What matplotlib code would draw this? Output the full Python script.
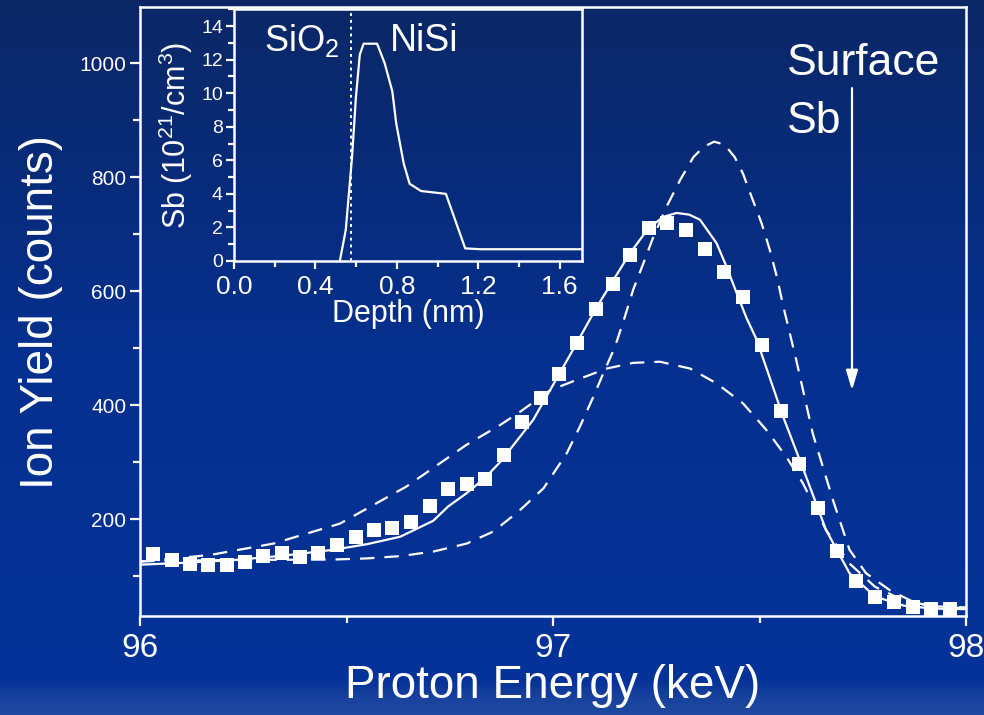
import numpy as np
import matplotlib
matplotlib.use("Agg")
import matplotlib.pyplot as plt
from matplotlib import font_manager
from matplotlib.colors import LinearSegmentedColormap
from matplotlib.ticker import MultipleLocator

# measured spectrum (squares)
e_data = [96.032, 96.077, 96.121, 96.165, 96.210, 96.254, 96.298, 96.343, 96.387, 96.432,
          96.477, 96.523, 96.567, 96.611, 96.656, 96.702, 96.746, 96.791, 96.835, 96.881,
          96.925, 96.970, 97.015, 97.059, 97.104, 97.146, 97.187, 97.232, 97.277, 97.323,
          97.368, 97.414, 97.460, 97.506, 97.551, 97.596, 97.642, 97.688, 97.733, 97.780,
          97.826, 97.871, 97.915, 97.961]
y_data = [138, 129, 122, 120, 119, 125, 136, 140, 134, 140,
          154, 168, 181, 185, 194, 223, 253, 261, 270, 313,
          370, 412, 454, 508, 568, 612, 663, 710, 720, 707,
          674, 633, 590, 506, 389, 296, 219, 144, 91, 64,
          55, 46, 43, 43]

# simulated spectrum for the fitted profile (solid)
e_fit = [96.00, 96.10, 96.226, 96.35, 96.467, 96.55, 96.63, 96.71, 96.746, 96.79,
         96.835, 96.872, 96.952, 97.05, 97.106, 97.186, 97.231, 97.267, 97.299, 97.330,
         97.356, 97.396, 97.420, 97.445, 97.469, 97.493, 97.557, 97.613, 97.661, 97.718,
         97.78, 97.85, 97.92, 98.00]
y_fit = [120, 123, 128, 136, 146, 156, 169, 197, 222, 245,
         272, 300, 374, 499, 572, 666, 710, 730, 737, 734,
         725, 684, 643, 596, 552, 515, 380, 274, 181, 105,
         64, 48, 43, 42]

# simulated spectra for the two bounding profiles (dashed)
e_narrow = [96.00, 96.20, 96.467, 96.55, 96.63, 96.71, 96.791, 96.855, 96.916, 96.977,
            97.033, 97.065, 97.098, 97.122, 97.150, 97.174, 97.194, 97.219, 97.243, 97.275,
            97.308, 97.340, 97.365, 97.390, 97.415, 97.440, 97.460, 97.481, 97.505, 97.525,
            97.542, 97.558, 97.589, 97.629, 97.678, 97.718, 97.758, 97.816, 97.88, 97.95,
            98.00]
y_narrow = [126, 128, 129, 131, 135, 143, 157, 178, 213, 254,
            315, 362, 415, 456, 502, 555, 602, 649, 695, 748,
            795, 835, 853, 862, 857, 835, 806, 765, 719, 672,
            625, 572, 479, 350, 233, 146, 105, 75, 52, 45,
            44]

e_broad = [96.00, 96.17, 96.323, 96.484, 96.645, 96.79, 96.872, 96.92, 96.993, 97.057,
           97.13, 97.194, 97.259, 97.332, 97.396, 97.46, 97.517, 97.565, 97.605, 97.661,
           97.718, 97.78, 97.85, 97.92, 98.00]
y_broad = [125, 137, 157, 192, 257, 330, 365, 388, 426, 444,
           464, 474, 476, 464, 438, 403, 356, 309, 263, 181,
           122, 81, 57, 47, 45]

# Sb depth profile (inset)
depth = [0.52, 0.549, 0.58, 0.599, 0.618, 0.637, 0.703, 0.74, 0.778, 0.797,
         0.834, 0.863, 0.919, 1.041, 1.136, 1.21, 1.71]
sb_conc = [0.0, 1.84, 6.19, 9.75, 12.3, 12.95, 12.95, 11.8, 10.1, 8.2,
           5.8, 4.6, 4.17, 4.0, 0.75, 0.7, 0.7]
interface = 0.577

names = {f.name for f in font_manager.fontManager.ttflist}
font = 'Liberation Sans Narrow' if 'Liberation Sans Narrow' in names else 'Liberation Sans'
plt.rcParams['font.family'] = [font, 'DejaVu Sans']
plt.rcParams['mathtext.fontset'] = 'custom'
plt.rcParams['mathtext.rm'] = font
plt.rcParams['mathtext.default'] = 'regular'

W = 'white'
fig = plt.figure(figsize=(9.84, 7.15), dpi=100)

# blue slide background
bg = fig.add_axes([0, 0, 1, 1], zorder=-10)
cmap = LinearSegmentedColormap.from_list(
    'slide', [(0.0, '#1e479f'), (0.02, '#1a439e'), (0.045, '#063399'),
              (0.5, '#05308f'), (1.0, '#0b2766')])
grad = np.linspace(0, 1, 715).reshape(-1, 1)
bg.imshow(grad, aspect='auto', cmap=cmap, extent=[0, 1, 0, 1], origin='lower')
bg.axis('off')

ax = fig.add_axes([0.1423, 0.1385, 0.8394, 0.8515])
ax.set_facecolor('none')
ax.plot(e_data, y_data, 's', color=W, ms=9.5, mew=0)
ax.plot(e_fit, y_fit, '-', color=W, lw=1.6)
ax.plot(e_narrow, y_narrow, '--', color=W, lw=1.6, dashes=(6.5, 4.5))
ax.plot(e_broad, y_broad, '--', color=W, lw=1.6, dashes=(6.5, 4.5))

ax.set_xlim(96, 98)
ax.set_ylim(30, 1098)
ax.xaxis.set_major_locator(MultipleLocator(1))
ax.xaxis.set_minor_locator(MultipleLocator(0.5))
ax.yaxis.set_major_locator(MultipleLocator(200))
ax.yaxis.set_minor_locator(MultipleLocator(100))
ax.set_yticks([200, 400, 600, 800, 1000])
for s in ax.spines.values():
    s.set_color(W)
    s.set_linewidth(1.8)
ax.tick_params(which='both', colors=W, direction='out', width=1.6)
ax.tick_params(which='major', length=7)
ax.tick_params(which='minor', length=5)
ax.tick_params(axis='x', labelsize=24, pad=5)
ax.tick_params(axis='y', labelsize=15, pad=3)
ax.set_xlabel('Proton Energy (keV)', fontsize=33, color=W, labelpad=0)
ax.set_ylabel('Ion Yield (counts)', fontsize=33, color=W, labelpad=12)

ax.text(97.567, 979, 'Surface', fontsize=32, color=W, va='baseline')
ax.text(97.567, 877, 'Sb', fontsize=32, color=W, va='baseline')
ax.annotate('', xy=(97.724, 426), xytext=(97.724, 956),
            arrowprops=dict(arrowstyle='-|>,head_length=0.6,head_width=0.18',
                            color=W, lw=1.6, mutation_scale=20,
                            shrinkA=0, shrinkB=0))

# inset: Sb depth profile
ins = fig.add_axes([0.2378, 0.635, 0.3537, 0.352])
ins.set_facecolor('none')
ins.plot(depth, sb_conc, '-', color=W, lw=1.6)
ins.axvline(interface, color=W, lw=1.4, ls=(0, (1.5, 2)))
ins.set_xlim(0, 1.71)
ins.set_ylim(0, 15)
ins.xaxis.set_major_locator(MultipleLocator(0.4))
ins.xaxis.set_minor_locator(MultipleLocator(0.2))
ins.yaxis.set_major_locator(MultipleLocator(2))
ins.yaxis.set_minor_locator(MultipleLocator(1))
ins.set_yticks(range(0, 15, 2))
ins.xaxis.set_major_formatter(plt.FormatStrFormatter('%.1f'))
for s in ins.spines.values():
    s.set_color(W)
    s.set_linewidth(1.8)
ins.tick_params(which='both', colors=W, direction='out', width=1.6)
ins.tick_params(which='major', length=6)
ins.tick_params(which='minor', length=4)
ins.tick_params(axis='x', labelsize=19, pad=4)
ins.tick_params(axis='y', labelsize=14, pad=2)
ins.set_xlabel('Depth (nm)', fontsize=22, color=W, labelpad=0)
ins.set_ylabel('Sb (10$^{21}$/cm$^{3}$)', fontsize=22, color=W, labelpad=4)
ins.text(0.147, 12.5, 'SiO$_2$', fontsize=26, color=W, va='baseline')
ins.text(0.767, 12.5, 'NiSi', fontsize=27, color=W, va='baseline')

fig.savefig('out.png', dpi=100)
